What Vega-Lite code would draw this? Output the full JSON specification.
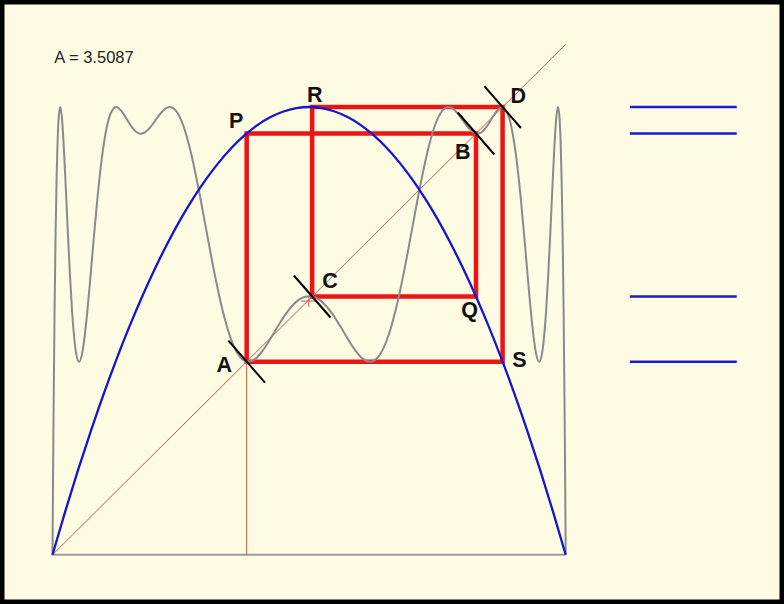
{
  "$schema": "https://vega.github.io/schema/vega-lite/v6.json",
  "width": 784,
  "height": 604,
  "autosize": {"type": "fit", "contains": "padding"},
  "padding": 0,
  "background": "#fdfce3",
  "config": {"view": {"stroke": "#000000", "strokeWidth": 9, "fill": "#fdfce3"}},
  "datasets": {
    "quartic": [
      {"x": 0, "y": 0}, {"x": 0.001, "y": 0.1427}, {"x": 0.002, "y": 0.2686}, {"x": 0.004, "y": 0.4751},
      {"x": 0.006, "y": 0.6291}, {"x": 0.008, "y": 0.7391}, {"x": 0.010, "y": 0.8125}, {"x": 0.012, "y": 0.8559},
      {"x": 0.0150, "y": 0.8772}, {"x": 0.018, "y": 0.8600}, {"x": 0.022, "y": 0.7995}, {"x": 0.026, "y": 0.7171},
      {"x": 0.030, "y": 0.6297}, {"x": 0.034, "y": 0.5483}, {"x": 0.038, "y": 0.4799}, {"x": 0.042, "y": 0.4284},
      {"x": 0.046, "y": 0.3950}, {"x": 0.0517, "y": 0.3780}, {"x": 0.058, "y": 0.3956}, {"x": 0.065, "y": 0.4483},
      {"x": 0.072, "y": 0.5221}, {"x": 0.080, "y": 0.6152}, {"x": 0.088, "y": 0.7031}, {"x": 0.096, "y": 0.7759},
      {"x": 0.104, "y": 0.8288}, {"x": 0.112, "y": 0.8612}, {"x": 0.1241, "y": 0.8772}, {"x": 0.135, "y": 0.8687},
      {"x": 0.145, "y": 0.8527}, {"x": 0.155, "y": 0.8371}, {"x": 0.164, "y": 0.8278}, {"x": 0.1721, "y": 0.8250},
      {"x": 0.180, "y": 0.8275}, {"x": 0.190, "y": 0.8368}, {"x": 0.200, "y": 0.8503}, {"x": 0.210, "y": 0.8640},
      {"x": 0.220, "y": 0.8740}, {"x": 0.2285, "y": 0.8772}, {"x": 0.240, "y": 0.8706}, {"x": 0.255, "y": 0.8404},
      {"x": 0.270, "y": 0.7866}, {"x": 0.285, "y": 0.7150}, {"x": 0.300, "y": 0.6345}, {"x": 0.315, "y": 0.5548},
      {"x": 0.330, "y": 0.4847}, {"x": 0.345, "y": 0.4305}, {"x": 0.360, "y": 0.3954}, {"x": 0.370, "y": 0.3828},
      {"x": 0.3815, "y": 0.3780}, {"x": 0.395, "y": 0.3837}, {"x": 0.410, "y": 0.4006}, {"x": 0.425, "y": 0.4239},
      {"x": 0.440, "y": 0.4490}, {"x": 0.455, "y": 0.4723}, {"x": 0.470, "y": 0.4908}, {"x": 0.485, "y": 0.5026},
      {"x": 0.500, "y": 0.5066},
      {"x": 0.515, "y": 0.5026}, {"x": 0.530, "y": 0.4908}, {"x": 0.545, "y": 0.4723}, {"x": 0.560, "y": 0.4490},
      {"x": 0.575, "y": 0.4239}, {"x": 0.590, "y": 0.4006}, {"x": 0.605, "y": 0.3837}, {"x": 0.6185, "y": 0.3780},
      {"x": 0.630, "y": 0.3828}, {"x": 0.640, "y": 0.3954}, {"x": 0.655, "y": 0.4305}, {"x": 0.670, "y": 0.4847},
      {"x": 0.685, "y": 0.5548}, {"x": 0.700, "y": 0.6345}, {"x": 0.715, "y": 0.7150}, {"x": 0.730, "y": 0.7866},
      {"x": 0.745, "y": 0.8404}, {"x": 0.760, "y": 0.8706}, {"x": 0.7715, "y": 0.8772}, {"x": 0.780, "y": 0.8740},
      {"x": 0.790, "y": 0.8640}, {"x": 0.800, "y": 0.8503}, {"x": 0.810, "y": 0.8368}, {"x": 0.820, "y": 0.8275},
      {"x": 0.8279, "y": 0.8250}, {"x": 0.836, "y": 0.8278}, {"x": 0.845, "y": 0.8371}, {"x": 0.855, "y": 0.8527},
      {"x": 0.865, "y": 0.8687}, {"x": 0.8759, "y": 0.8772}, {"x": 0.888, "y": 0.8612}, {"x": 0.896, "y": 0.8288},
      {"x": 0.904, "y": 0.7759}, {"x": 0.912, "y": 0.7031}, {"x": 0.920, "y": 0.6152}, {"x": 0.928, "y": 0.5221},
      {"x": 0.935, "y": 0.4483}, {"x": 0.942, "y": 0.3956}, {"x": 0.9483, "y": 0.3780}, {"x": 0.954, "y": 0.3950},
      {"x": 0.958, "y": 0.4284}, {"x": 0.962, "y": 0.4799}, {"x": 0.966, "y": 0.5483}, {"x": 0.970, "y": 0.6297},
      {"x": 0.974, "y": 0.7171}, {"x": 0.978, "y": 0.7995}, {"x": 0.982, "y": 0.8600}, {"x": 0.9850, "y": 0.8772},
      {"x": 0.988, "y": 0.8559}, {"x": 0.990, "y": 0.8125}, {"x": 0.992, "y": 0.7391}, {"x": 0.994, "y": 0.6291},
      {"x": 0.996, "y": 0.4751}, {"x": 0.998, "y": 0.2686}, {"x": 0.999, "y": 0.1427}, {"x": 1, "y": 0}
    ],
    "logistic": [
      {"x": 0, "y": 0}, {"x": 0.025, "y": 0.0855}, {"x": 0.05, "y": 0.1667}, {"x": 0.075, "y": 0.2434},
      {"x": 0.1, "y": 0.3158}, {"x": 0.125, "y": 0.3838}, {"x": 0.15, "y": 0.4474}, {"x": 0.175, "y": 0.5066},
      {"x": 0.2, "y": 0.5614}, {"x": 0.225, "y": 0.6118}, {"x": 0.25, "y": 0.6579}, {"x": 0.275, "y": 0.6995},
      {"x": 0.3, "y": 0.7368}, {"x": 0.325, "y": 0.7697}, {"x": 0.35, "y": 0.7982}, {"x": 0.375, "y": 0.8224},
      {"x": 0.4, "y": 0.8421}, {"x": 0.425, "y": 0.8574}, {"x": 0.45, "y": 0.8684}, {"x": 0.475, "y": 0.8750},
      {"x": 0.5, "y": 0.8772},
      {"x": 0.525, "y": 0.8750}, {"x": 0.55, "y": 0.8684}, {"x": 0.575, "y": 0.8574}, {"x": 0.6, "y": 0.8421},
      {"x": 0.625, "y": 0.8224}, {"x": 0.65, "y": 0.7982}, {"x": 0.675, "y": 0.7697}, {"x": 0.7, "y": 0.7368},
      {"x": 0.725, "y": 0.6995}, {"x": 0.75, "y": 0.6579}, {"x": 0.775, "y": 0.6118}, {"x": 0.8, "y": 0.5614},
      {"x": 0.825, "y": 0.5066}, {"x": 0.85, "y": 0.4474}, {"x": 0.875, "y": 0.3838}, {"x": 0.9, "y": 0.3158},
      {"x": 0.925, "y": 0.2434}, {"x": 0.95, "y": 0.1667}, {"x": 0.975, "y": 0.0855}, {"x": 1, "y": 0}
    ],
    "cobweb": [
      {"step": 0, "x": 0.37836, "y": 0.37836},
      {"step": 1, "x": 0.37836, "y": 0.82526},
      {"step": 2, "x": 0.82526, "y": 0.82526},
      {"step": 3, "x": 0.82526, "y": 0.50598},
      {"step": 4, "x": 0.50598, "y": 0.50598},
      {"step": 5, "x": 0.50598, "y": 0.87705},
      {"step": 6, "x": 0.87705, "y": 0.87705},
      {"step": 7, "x": 0.87705, "y": 0.37836},
      {"step": 8, "x": 0.37836, "y": 0.37836}
    ],
    "segments": [
      {"kind": "axis", "x": 0, "y": 0, "x2": 1, "y2": 0},
      {"kind": "diagonal", "x": 0, "y": 0, "x2": 1, "y2": 1},
      {"kind": "drop", "x": 0.37836, "y": 0.37836, "x2": 0.37836, "y2": 0},
      {"kind": "cross", "x": 0.484, "y": 0.497, "x2": 0.515, "y2": 0.497},
      {"kind": "cross", "x": 0.4995, "y": 0.486, "x2": 0.4995, "y2": 0.507},
      {"kind": "tick", "x": 0.3427, "y": 0.4195, "x2": 0.4141, "y2": 0.3373},
      {"kind": "tick", "x": 0.7896, "y": 0.8664, "x2": 0.8610, "y2": 0.7842},
      {"kind": "tick", "x": 0.4703, "y": 0.5471, "x2": 0.5417, "y2": 0.4649},
      {"kind": "tick", "x": 0.8414, "y": 0.9182, "x2": 0.9128, "y2": 0.8360}
    ],
    "cycle": [
      {"value": 0.87705}, {"value": 0.82526}, {"value": 0.50598}, {"value": 0.37836}
    ],
    "labels": [
      {"label": "P", "x": 0.3580, "y": 0.8355},
      {"label": "R", "x": 0.5109, "y": 0.8864},
      {"label": "D", "x": 0.9076, "y": 0.8844},
      {"label": "B", "x": 0.7995, "y": 0.7747},
      {"label": "C", "x": 0.5407, "y": 0.5220},
      {"label": "Q", "x": 0.8126, "y": 0.4658},
      {"label": "S", "x": 0.9100, "y": 0.3685},
      {"label": "A", "x": 0.3346, "y": 0.3575}
    ],
    "caption": [
      {"text": "A = 3.5087", "x": 0.0035, "y": 0.9628}
    ]
  },
  "layer": [
    {
      "data": {"name": "segments"},
      "transform": [{"filter": "datum.kind === 'axis'"}],
      "mark": {"type": "rule", "color": "#9c9c9c", "strokeWidth": 2},
      "encoding": {
        "x": {"field": "x", "type": "quantitative", "scale": {"domain": [-0.1023, 1.4254], "nice": false, "zero": false}, "axis": null},
        "y": {"field": "y", "type": "quantitative", "scale": {"domain": [-0.0964, 1.0868], "nice": false, "zero": false}, "axis": null},
        "x2": {"field": "x2"},
        "y2": {"field": "y2"}
      }
    },
    {
      "data": {"name": "cobweb"},
      "mark": {"type": "line", "color": "#ee1414", "strokeWidth": 4.5, "strokeJoin": "miter", "strokeCap": "square"},
      "encoding": {
        "x": {"field": "x", "type": "quantitative", "scale": {"domain": [-0.1023, 1.4254], "nice": false, "zero": false}, "axis": null},
        "y": {"field": "y", "type": "quantitative", "scale": {"domain": [-0.0964, 1.0868], "nice": false, "zero": false}, "axis": null},
        "order": {"field": "step", "type": "quantitative"}
      }
    },
    {
      "data": {"name": "segments"},
      "transform": [{"filter": "datum.kind === 'diagonal' || datum.kind === 'drop' || datum.kind === 'cross'"}],
      "mark": {"type": "rule", "color": "#c8584a", "strokeWidth": 1},
      "encoding": {
        "x": {"field": "x", "type": "quantitative", "scale": {"domain": [-0.1023, 1.4254], "nice": false, "zero": false}, "axis": null},
        "y": {"field": "y", "type": "quantitative", "scale": {"domain": [-0.0964, 1.0868], "nice": false, "zero": false}, "axis": null},
        "x2": {"field": "x2"},
        "y2": {"field": "y2"}
      }
    },
    {
      "data": {"name": "quartic"},
      "mark": {"type": "line", "color": "#8a8a8a", "strokeWidth": 2, "interpolate": "monotone"},
      "encoding": {
        "x": {"field": "x", "type": "quantitative", "scale": {"domain": [-0.1023, 1.4254], "nice": false, "zero": false}, "axis": null},
        "y": {"field": "y", "type": "quantitative", "scale": {"domain": [-0.0964, 1.0868], "nice": false, "zero": false}, "axis": null}
      }
    },
    {
      "data": {"name": "logistic"},
      "mark": {"type": "line", "color": "#1414d2", "strokeWidth": 2.3, "interpolate": "monotone"},
      "encoding": {
        "x": {"field": "x", "type": "quantitative", "scale": {"domain": [-0.1023, 1.4254], "nice": false, "zero": false}, "axis": null},
        "y": {"field": "y", "type": "quantitative", "scale": {"domain": [-0.0964, 1.0868], "nice": false, "zero": false}, "axis": null}
      }
    },
    {
      "data": {"name": "segments"},
      "transform": [{"filter": "datum.kind === 'tick'"}],
      "mark": {"type": "rule", "color": "#000000", "strokeWidth": 2},
      "encoding": {
        "x": {"field": "x", "type": "quantitative", "scale": {"domain": [-0.1023, 1.4254], "nice": false, "zero": false}, "axis": null},
        "y": {"field": "y", "type": "quantitative", "scale": {"domain": [-0.0964, 1.0868], "nice": false, "zero": false}, "axis": null},
        "x2": {"field": "x2"},
        "y2": {"field": "y2"}
      }
    },
    {
      "data": {"name": "cycle"},
      "mark": {"type": "rule", "color": "#1a1ad0", "strokeWidth": 2.5},
      "encoding": {
        "x": {"datum": 1.125, "type": "quantitative", "scale": {"domain": [-0.1023, 1.4254], "nice": false, "zero": false}, "axis": null},
        "x2": {"datum": 1.3333},
        "y": {"field": "value", "type": "quantitative", "scale": {"domain": [-0.0964, 1.0868], "nice": false, "zero": false}, "axis": null}
      }
    },
    {
      "data": {"name": "labels"},
      "mark": {"type": "text", "font": "Liberation Sans", "fontWeight": "bold", "fontSize": 21.5, "align": "center", "baseline": "alphabetic", "color": "#111111"},
      "encoding": {
        "x": {"field": "x", "type": "quantitative", "scale": {"domain": [-0.1023, 1.4254], "nice": false, "zero": false}, "axis": null},
        "y": {"field": "y", "type": "quantitative", "scale": {"domain": [-0.0964, 1.0868], "nice": false, "zero": false}, "axis": null},
        "text": {"field": "label"}
      }
    },
    {
      "data": {"name": "caption"},
      "mark": {"type": "text", "font": "Liberation Sans", "fontSize": 16.5, "align": "left", "baseline": "alphabetic", "color": "#222222"},
      "encoding": {
        "x": {"field": "x", "type": "quantitative", "scale": {"domain": [-0.1023, 1.4254], "nice": false, "zero": false}, "axis": null},
        "y": {"field": "y", "type": "quantitative", "scale": {"domain": [-0.0964, 1.0868], "nice": false, "zero": false}, "axis": null},
        "text": {"field": "text"}
      }
    }
  ]
}
